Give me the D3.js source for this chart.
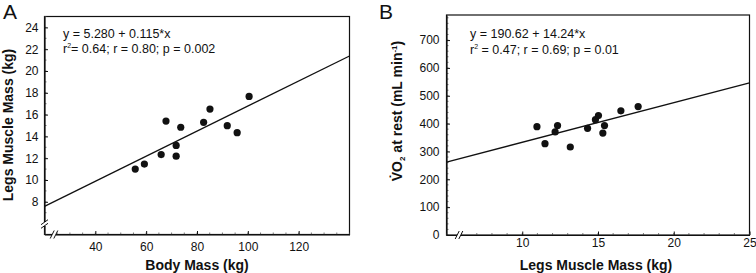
<!DOCTYPE html>
<html>
<head>
<meta charset="utf-8">
<script src="https://cdn.jsdelivr.net/npm/d3@7"></script>
<style>
  body { margin: 0; background: #fff; }
  svg { font-family: "Liberation Sans", Arial, sans-serif; }
  .tick text { font-size: 12px; fill: #111; }
  .title { font-size: 14px; font-weight: bold; fill: #111; }
  .eq { font-size: 12.5px; fill: #111; }
  .panel { font-size: 21px; fill: #111; }
</style>
</head>
<body>
<div id="chart-area"></div>
<script>
// Panel A: body mass vs legs muscle mass
var bodyMass = [55.7, 59.3, 65.9, 67.8, 71.8, 71.8, 73.6, 82.6, 85.1, 91.9, 95.8, 100.5];
var legsMuscleA = [11.0, 11.46, 12.33, 15.41, 13.17, 12.19, 14.84, 15.29, 16.51, 14.98, 14.34, 17.67];
var fitA = { intercept: 5.280, slope: 0.115 };
var xTicksA = [40, 60, 80, 100, 120];
var yTicksA = [8, 10, 12, 14, 16, 18, 20, 22, 24];

// Panel B: legs muscle mass vs VO2 at rest
var legsMuscleB = [10.97, 12.33, 12.17, 11.5, 13.17, 14.31, 14.83, 15.03, 15.43, 15.32, 16.51, 17.65];
var vo2Rest = [389, 393, 370, 328, 316, 383, 414, 429, 393, 366, 446, 461];
var fitB = { intercept: 190.62, slope: 14.24 };
var xTicksB = [10, 15, 20, 25];
var yTicksB = [0, 100, 200, 300, 400, 500, 600, 700];

var svg = d3.select("#chart-area")
  .append("svg")
  .attr("width", 756)
  .attr("height", 273);

function drawPanel(opt) {
  var x = d3.scaleLinear().domain(opt.xDomain).range([opt.left, opt.right]);
  var y = d3.scaleLinear().domain(opt.yDomain).range([opt.bottom, opt.top]);
  var g = svg.append("g");

  // frame
  g.append("rect")
    .attr("x", opt.left)
    .attr("y", opt.top)
    .attr("width", opt.right - opt.left)
    .attr("height", opt.bottom - opt.top)
    .attr("fill", "none")
    .attr("stroke", "#111")
    .attr("stroke-width", 1.2);

  // minor ticks
  var xMinor = d3.range(opt.xDomain[0], opt.xDomain[1] + 0.001, opt.xMinor);
  var yMinor = d3.range(opt.yDomain[0], opt.yDomain[1] + 0.001, opt.yMinor);
  g.selectAll(".xminor")
    .data(xMinor)
    .enter()
    .append("line")
    .attr("x1", function(d) { return x(d); })
    .attr("x2", function(d) { return x(d); })
    .attr("y1", opt.bottom)
    .attr("y2", opt.bottom - 2)
    .attr("stroke", "#444")
    .attr("stroke-width", 0.7);
  g.selectAll(".yminor")
    .data(yMinor)
    .enter()
    .append("line")
    .attr("y1", function(d) { return y(d); })
    .attr("y2", function(d) { return y(d); })
    .attr("x1", opt.left)
    .attr("x2", opt.left + 2)
    .attr("stroke", "#444")
    .attr("stroke-width", 0.7);

  // axes
  var xAxis = g.append("g")
    .attr("transform", "translate(0," + opt.bottom + ")")
    .call(d3.axisBottom(x).tickValues(opt.xTicks).tickSizeInner(-3.5).tickSizeOuter(0).tickPadding(opt.xPad));
  var yAxis = g.append("g")
    .attr("transform", "translate(" + opt.left + ",0)")
    .call(d3.axisLeft(y).tickValues(opt.yTicks).tickSizeInner(-3.5).tickSizeOuter(0).tickPadding(opt.yPad));
  [xAxis, yAxis].forEach(function(a) {
    a.select(".domain").attr("stroke", "#111").attr("stroke-width", 1.2);
    a.selectAll(".tick line").attr("stroke", "#111");
    a.selectAll(".tick text").attr("font-family", null).attr("font-size", null);
  });

  // break marks
  function breakMark(cx, cy, vertical) {
    var bg = g.append("g");
    if (vertical) {
      bg.append("rect").attr("x", cx - 4).attr("y", cy - 2).attr("width", 8).attr("height", 4).attr("fill", "#fff");
      [-1.8, 1.8].forEach(function(o) {
        bg.append("line")
          .attr("x1", cx - 3.5).attr("y1", cy + o + 2.5)
          .attr("x2", cx + 3.5).attr("y2", cy + o - 2.5)
          .attr("stroke", "#111").attr("stroke-width", 1);
      });
    } else {
      bg.append("rect").attr("x", cx - 2).attr("y", cy - 4).attr("width", 4).attr("height", 8).attr("fill", "#fff");
      [-1.8, 1.8].forEach(function(o) {
        bg.append("line")
          .attr("x1", cx + o - 2).attr("y1", cy + 4)
          .attr("x2", cx + o + 2).attr("y2", cy - 4)
          .attr("stroke", "#111").attr("stroke-width", 1);
      });
    }
  }
  if (opt.yBreak) breakMark(opt.left, opt.yBreak, true);
  breakMark(opt.xBreak, opt.bottom, false);

  // regression line
  var fx = opt.xDomain;
  g.append("line")
    .attr("x1", x(fx[0]))
    .attr("y1", y(opt.fit.intercept + opt.fit.slope * fx[0]))
    .attr("x2", x(fx[1]))
    .attr("y2", y(opt.fit.intercept + opt.fit.slope * fx[1]))
    .attr("stroke", "#111")
    .attr("stroke-width", 1.3);

  // points
  g.selectAll(".pt")
    .data(opt.xs)
    .enter()
    .append("circle")
    .attr("cx", function(d) { return x(d); })
    .attr("cy", function(d, i) { return y(opt.ys[i]); })
    .attr("r", 3.6)
    .attr("fill", "#111");

  return g;
}

// Panel A
var gA = drawPanel({
  left: 44.5, right: 349.5, top: 16.5, bottom: 234.5,
  xDomain: [20, 140], yDomain: [5, 25],
  xTicks: xTicksA, yTicks: yTicksA,
  xMinor: 5, yMinor: 1,
  xPad: 8, yPad: 6,
  xs: bodyMass, ys: legsMuscleA, fit: fitA,
  yBreak: 224, xBreak: 54
});

gA.append("text").attr("class", "panel").attr("x", 3).attr("y", 19).text("A");
gA.append("text").attr("class", "eq").attr("x", 63).attr("y", 38).text("y = 5.280 + 0.115*x");
var r2A = gA.append("text").attr("class", "eq").attr("x", 63).attr("y", 53);
r2A.append("tspan").text("r");
r2A.append("tspan").attr("font-size", "7px").attr("dy", -5).text("2");
r2A.append("tspan").attr("dy", 5).text("= 0.64; r = 0.80; p = 0.002");
gA.append("text").attr("class", "title")
  .attr("x", 197).attr("y", 270)
  .attr("text-anchor", "middle")
  .text("Body Mass (kg)");
gA.append("text").attr("class", "title")
  .attr("transform", "translate(13,125) rotate(-90)")
  .attr("text-anchor", "middle")
  .text("Legs Muscle Mass (kg)");

// Panel B
var gB = drawPanel({
  left: 446.5, right: 749.5, top: 15, bottom: 235,
  xDomain: [5, 25], yDomain: [0, 790],
  xTicks: xTicksB, yTicks: yTicksB,
  xMinor: 1, yMinor: 20,
  xPad: 3, yPad: 7,
  xs: legsMuscleB, ys: vo2Rest, fit: fitB,
  yBreak: null, xBreak: 459
});

gB.append("text").attr("class", "panel").attr("x", 379).attr("y", 19).text("B");
gB.append("text").attr("class", "eq").attr("x", 470).attr("y", 38).text("y = 190.62 + 14.24*x");
var r2B = gB.append("text").attr("class", "eq").attr("x", 470).attr("y", 54);
r2B.append("tspan").text("r");
r2B.append("tspan").attr("font-size", "7px").attr("dy", -5).text("2");
r2B.append("tspan").attr("dy", 5).text(" = 0.47; r = 0.69; p = 0.01");
gB.append("text").attr("class", "title")
  .attr("x", 596).attr("y", 270)
  .attr("text-anchor", "middle")
  .text("Legs Muscle Mass (kg)");
var yTitleB = gB.append("text").attr("class", "title")
  .attr("transform", "translate(402,111) rotate(-90)")
  .attr("text-anchor", "middle");
yTitleB.append("tspan").text("V\u0307O");
yTitleB.append("tspan").attr("font-size", "8px").attr("dy", 3).text("2");
yTitleB.append("tspan").attr("dy", -3).text(" at rest (mL min");
yTitleB.append("tspan").attr("font-size", "8px").attr("dy", -5).text("-1");
yTitleB.append("tspan").attr("dy", 5).text(")");
</script>
</body>
</html>
